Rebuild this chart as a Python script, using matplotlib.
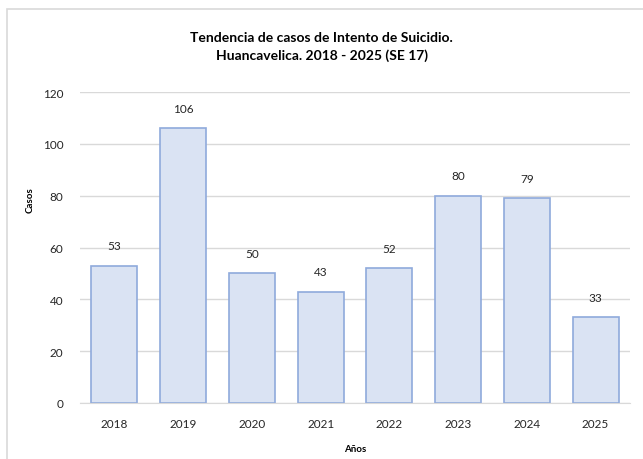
import matplotlib.pyplot as plt
from matplotlib.patches import Rectangle

# Datos
anios = ['2018', '2019', '2020', '2021', '2022', '2023', '2024', '2025']
casos = [53, 106, 50, 43, 52, 80, 79, 33]

plt.rcParams['font.family'] = ['Lato', 'DejaVu Sans']

W, H = 643, 460
fig = plt.figure(figsize=(W / 100, H / 100), dpi=100)
ax = fig.add_axes([80 / W, 1 - 404 / H, 550 / W, 311 / H])

# marco exterior del grafico
fig.patches.append(Rectangle((7 / W, -0.01), 1.1, 1 - 10 / H + 0.01,
                             transform=fig.transFigure, fill=False,
                             edgecolor='#D9D9D9', linewidth=1.2))

x = range(len(anios))
bars = ax.bar(x, casos, width=0.67, color='#DAE3F3', edgecolor='#8FAADC',
              linewidth=1.2, zorder=2)
for b, v in zip(bars, casos):
    ax.text(b.get_x() + b.get_width() / 2, v + 5.5, str(v),
            ha='center', va='bottom', fontsize=8.5, color='#262626')

ax.set_xlim(-0.5, len(anios) - 0.5)
ax.set_ylim(0, 120)
ax.set_yticks(range(0, 121, 20))
ax.set_xticks(list(x))
ax.set_xticklabels(anios)
ax.yaxis.grid(True, color='#D9D9D9', linewidth=1, zorder=0)
ax.set_axisbelow(True)
for s in ['top', 'right', 'left']:
    ax.spines[s].set_visible(False)
ax.spines['bottom'].set_color('#D9D9D9')
ax.tick_params(length=0, labelsize=8.5, labelcolor='#262626')
ax.tick_params(axis='y', pad=12)
ax.tick_params(axis='x', pad=11)

fig.text(0.5, 1 - 47 / H,
         'Tendencia de casos de Intento de Suicidio.\nHuancavelica. 2018 - 2025 (SE 17)',
         ha='center', va='center', fontsize=10, fontweight='bold',
         color='#000000', linespacing=1.5)
fig.text(355 / W, 1 - 450 / H, 'Años', ha='center', va='center',
         fontsize=7, fontweight='bold', color='#000000')
fig.text(30 / W, 1 - 200 / H, 'Casos', ha='center', va='center',
         rotation=90, fontsize=7, fontweight='bold', color='#000000')

fig.savefig('out.png', dpi=100)
